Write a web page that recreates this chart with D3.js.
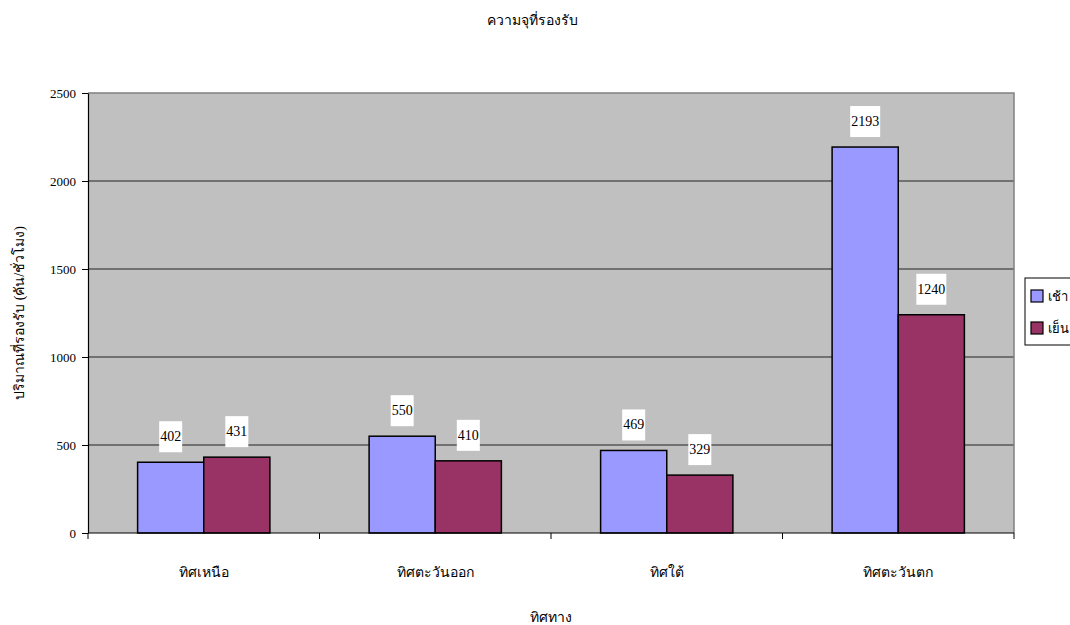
<!DOCTYPE html>
<html>
<head>
<meta charset="utf-8">
<script src="https://cdn.jsdelivr.net/npm/d3@7"></script>
<style>
  html, body { margin: 0; padding: 0; background: #fff; }
  svg { display: block; }
  text { font-family: "Liberation Serif", "Times New Roman", serif; fill: #000; }
</style>
</head>
<body>
<svg id="chart" width="1070" height="625"></svg>
<script>
// Capacity by direction, morning vs evening
const categories = ["ทิศเหนือ", "ทิศตะวันออก", "ทิศใต้", "ทิศตะวันตก"];
const seriesNames = ["เช้า", "เย็น"];
const morning = [402, 550, 469, 2193];
const evening = [431, 410, 329, 1240];
const yTicks = [0, 500, 1000, 1500, 2000, 2500];
const colors = ["#9999FF", "#993366"];

const titleText = "ความจุที่รองรับ";
const xTitle = "ทิศทาง";
const yTitle = "ปริมาณที่รองรับ (คัน/ชั่วโมง)";

const svg = d3.select("#chart");
const plot = { left: 88, right: 1014, top: 93, bottom: 533 };

const x = d3.scaleBand().domain(categories).range([plot.left, plot.right]).paddingInner(0).paddingOuter(0);
// gap width of 150% between bar groups
const inner = d3.scaleBand().domain(seriesNames).range([0, x.bandwidth()]).paddingInner(0).paddingOuter(0.75);
const y = d3.scaleLinear().domain([0, 2500]).range([plot.bottom, plot.top]);

// Plot background
svg.append("rect")
  .attr("x", plot.left).attr("y", plot.top)
  .attr("width", plot.right - plot.left).attr("height", plot.bottom - plot.top)
  .attr("fill", "#C0C0C0");

// Gridlines
svg.append("g").selectAll("line").data(yTicks.filter(d => d > 0 && d < 2500)).join("line")
  .attr("x1", plot.left).attr("x2", plot.right)
  .attr("y1", d => y(d)).attr("y2", d => y(d))
  .attr("stroke", "#222").attr("stroke-width", 1.2);

// Plot frame (top / right)
svg.append("path")
  .attr("d", `M${plot.left},${plot.top}H${plot.right}V${plot.bottom}`)
  .attr("fill", "none").attr("stroke", "#808080").attr("stroke-width", 1.5);

// Bars
const rows = categories.map((c, i) => ({ cat: c, vals: [morning[i], evening[i]] }));
const groups = svg.append("g").selectAll("g").data(rows).join("g")
  .attr("transform", d => `translate(${x(d.cat)},0)`);

groups.selectAll("rect").data(d => d.vals.map((v, j) => ({ name: seriesNames[j], v, j }))).join("rect")
  .attr("x", d => inner(d.name))
  .attr("y", d => y(d.v))
  .attr("width", inner.bandwidth())
  .attr("height", d => y(0) - y(d.v))
  .attr("fill", d => colors[d.j])
  .attr("stroke", "#000").attr("stroke-width", 1.5);

// Value labels on white boxes
const labels = groups.selectAll("g.lbl").data(d => d.vals.map((v, j) => ({ name: seriesNames[j], v, j }))).join("g")
  .attr("class", "lbl")
  .attr("transform", d => `translate(${inner(d.name) + inner.bandwidth() / 2},${y(d.v) - 26})`);
labels.each(function (d) {
  const g = d3.select(this);
  const t = g.append("text").attr("text-anchor", "middle").attr("dy", "0.35em")
    .attr("font-size", 14).text(d.v);
  const w = t.node().getComputedTextLength() + 2;
  g.insert("rect", "text").attr("x", -w / 2).attr("y", -15).attr("width", w).attr("height", 31).attr("fill", "#fff");
});

// Y axis
const yAxis = d3.axisLeft(y).tickValues(yTicks).tickFormat(d3.format("d")).tickSize(6).tickPadding(6).tickSizeOuter(0);
const gy = svg.append("g").attr("transform", `translate(${plot.left},0)`).call(yAxis);
gy.select(".domain").attr("stroke", "#000").attr("stroke-width", 1.2);
gy.selectAll(".tick line").attr("stroke", "#000");
gy.selectAll(".tick text").attr("font-size", 13).attr("font-family", "Liberation Serif, serif");

// X axis with ticks at category boundaries
const gx = svg.append("g").attr("transform", `translate(0,${plot.bottom})`);
gx.append("line").attr("x1", plot.left).attr("x2", plot.right).attr("stroke", "#000").attr("stroke-width", 1.2);
const bounds = categories.map(c => x(c)).concat([x(categories[categories.length - 1]) + x.bandwidth()]);
gx.selectAll("line.tk").data(bounds).join("line").attr("class", "tk")
  .attr("x1", d => d).attr("x2", d => d).attr("y1", 0).attr("y2", 6).attr("stroke", "#000");
gx.selectAll("text").data(categories).join("text")
  .attr("x", d => x(d) + x.bandwidth() / 2).attr("y", 44)
  .attr("text-anchor", "middle").attr("font-size", 14).text(d => d);

// Titles
svg.append("text").attr("x", 532).attr("y", 25).attr("text-anchor", "middle").attr("font-size", 14).text(titleText);
svg.append("text").attr("x", 551).attr("y", 622).attr("text-anchor", "middle").attr("font-size", 14).text(xTitle);
svg.append("text").attr("transform", `translate(24,${(plot.top + plot.bottom) / 2}) rotate(-90)`)
  .attr("text-anchor", "middle").attr("font-size", 14).text(yTitle);

// Legend
const leg = svg.append("g").attr("transform", "translate(1025,278)");
leg.append("rect").attr("x", 0).attr("y", 0).attr("width", 80).attr("height", 67)
  .attr("fill", "#fff").attr("stroke", "#000").attr("stroke-width", 1);
seriesNames.forEach((n, i) => {
  leg.append("rect").attr("x", 6).attr("y", 12 + i * 32).attr("width", 12).attr("height", 12)
    .attr("fill", colors[i]).attr("stroke", "#000").attr("stroke-width", 1.2);
  leg.append("text").attr("x", 23).attr("y", 18 + i * 32).attr("dy", "0.35em").attr("font-size", 13).text(n);
});
</script>
</body>
</html>
